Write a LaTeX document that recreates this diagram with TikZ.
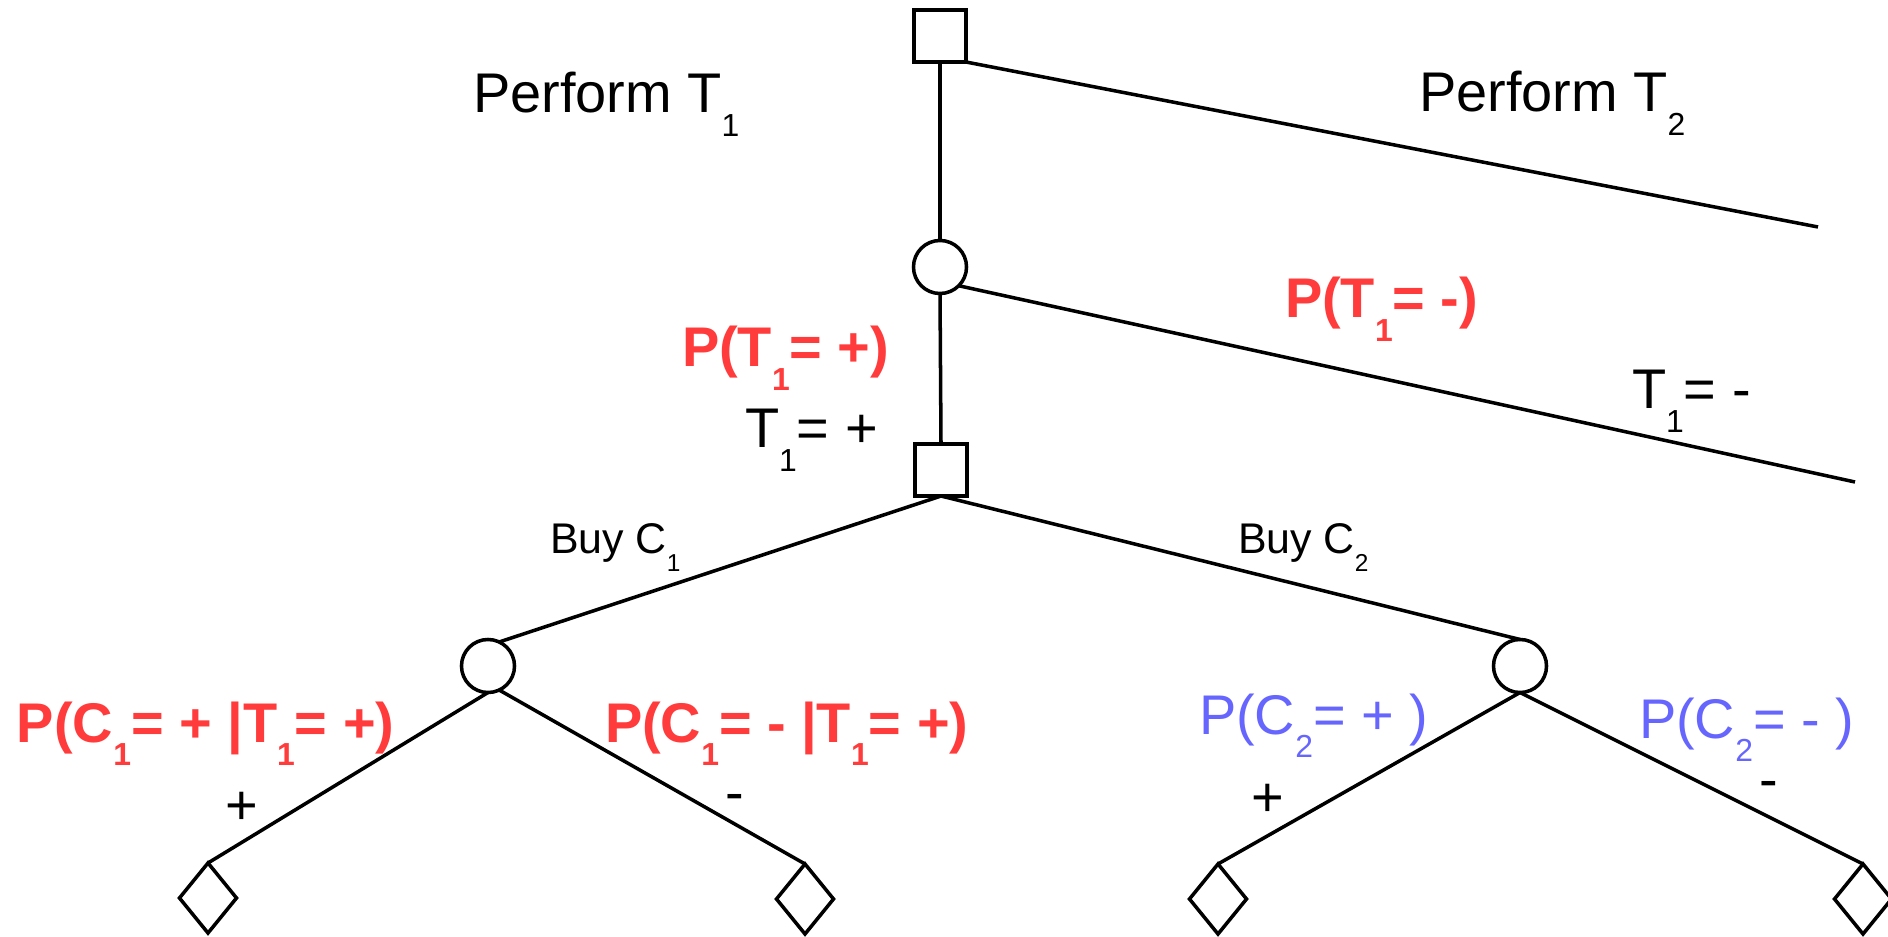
\documentclass[tikz,border=0pt]{standalone}
\usepackage{fontspec}
\usepackage{graphicx}
\setmainfont{Liberation Sans}
\usetikzlibrary{shapes.geometric}
\definecolor{pred}{RGB}{255,59,59}
\definecolor{pblue}{RGB}{102,102,255}
\newcommand\dsub[1]{\raisebox{-0.42em}{\scalebox{0.57}{#1}}}
\begin{document}
\begin{tikzpicture}[x=0.01cm,y=-0.01cm,
  every node/.style={inner sep=0pt, outer sep=0pt},
  edge/.style={line width=1pt},
  decision/.style={draw, line width=1pt, rectangle, minimum width=0.52cm, minimum height=0.52cm},
  chance/.style={draw, line width=1pt, circle, minimum size=0.53cm},
  leaf/.style={draw, line width=1pt, diamond, minimum width=0.57cm, minimum height=0.70cm},
  big/.style={font=\fontsize{15.9}{19}\selectfont, anchor=base west},
  bigb/.style={font=\fontsize{15.9}{19}\selectfont\bfseries, text=pred, anchor=base west},
  bigblue/.style={font=\fontsize{15.9}{19}\selectfont, text=pblue, anchor=base west},
  small/.style={font=\fontsize{12.2}{15}\selectfont, anchor=base west},
  sign/.style={font=\fontsize{15.9}{19}\selectfont}
]
\useasboundingbox (0,0) rectangle (1888,937);

% decision and chance nodes
\node[decision] (A) at (940,36) {};
\node[chance]   (B) at (940,267) {};
\node[decision] (C) at (941,470) {};
\node[chance]   (D) at (488,666) {};
\node[chance]   (E) at (1520,666) {};
\node[leaf] (L1) at (208,898) {};
\node[leaf] (L2) at (805,899) {};
\node[leaf] (L3) at (1218,899) {};
\node[leaf] (L4) at (1863,899) {};
\coordinate (T2end) at (1818,227);
\coordinate (Tmend) at (1855,482);

% connectors
\draw[edge] (A.south) -- (B.north);
\draw[edge] (A.south east) -- (T2end);
\draw[edge] (B.south) -- (C.north);
\draw[edge] (B.-45) -- (Tmend);
\draw[edge] (C.south) -- (D.65);
\draw[edge] (C.south) -- (E.north);
\draw[edge] (D.south) -- (L1.north);
\draw[edge] (D.-65) -- (L2.north);
\draw[edge] (E.south) -- (L3.north);
\draw[edge] (E.south) -- (L4.north);

% labels
\node[big] (pt1) at (473,113) {Perform T\dsub{1}};
\node[big] (pt2) at (1419,112) {Perform T\dsub{2}};
\node[bigb] (ptm) at (1285,318) {P(T\dsub{1}= -)};
\node[bigb] (ptp) at (682,367) {P(T\dsub{1}= +)};
\node[big] (tp) at (745,448) {T\dsub{1}= +};
\node[big] (tm) at (1632,409) {T\dsub{1}= -};
\node[small] (b1) at (550,553) {Buy C\dsub{1}};
\node[small] (b2) at (1238,553) {Buy C\dsub{2}};
\node[bigb] (pc1p) at (17,742) {P(C\dsub{1}= + |T\dsub{1}= +)};
\node[bigb] (pc1m) at (605,742) {P(C\dsub{1}= - |T\dsub{1}= +)};
\node[bigblue] (pc2p) at (1199,734) {P(C\dsub{2}= + )};
\node[bigblue] (pc2m) at (1639,738) {P(C\dsub{2}= - )};
\node[sign] (s1) at (242,808) {+};
\node[sign] (s2) at (735,803) {-};
\node[sign] (s3) at (1268,800) {+};
\node[sign] (s4) at (1769,790) {-};
\end{tikzpicture}
\end{document}
